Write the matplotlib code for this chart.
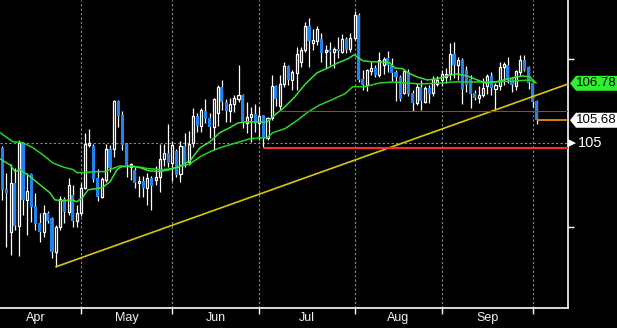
import numpy as np
import matplotlib
matplotlib.use("Agg")
import matplotlib.pyplot as plt
from matplotlib.patches import Polygon
from matplotlib.transforms import IdentityTransform

# daily OHLC, oldest first (Apr -> early Oct)
opens = [
    104.86, 103.64, 102.36, 103.82, 102.54, 105.01, 103.31, 104.09, 103.13, 102.63,
    102.36, 102.92, 102.78, 101.76, 102.51, 103.34, 102.95, 103.46, 102.69, 102.92,
    103.67, 104.95, 104.92, 103.97, 103.40, 103.91, 104.83, 104.83, 106.26, 105.84,
    104.98, 104.29, 104.21, 103.82, 103.88, 103.67, 103.97, 103.91, 104.00, 104.53,
    104.71, 104.41, 104.77, 104.09, 104.92, 104.44, 105.01, 105.81, 105.51, 105.96,
    105.75, 105.49, 105.90, 106.68, 106.23, 105.96, 106.17, 106.32, 106.44, 105.60,
    105.78, 105.87, 105.60, 105.84, 105.16, 105.75, 106.71, 106.11, 106.76, 107.30,
    106.88, 107.09, 107.42, 107.78, 108.49, 107.99, 108.04, 108.10, 107.72, 107.78,
    107.72, 107.81, 107.72, 108.10, 107.81, 108.13, 108.82, 106.91, 106.74, 107.15,
    107.24, 107.03, 107.33, 107.54, 107.33, 107.12, 106.97, 106.50, 107.12, 106.50,
    106.20, 106.68, 106.23, 106.65, 106.50, 106.76, 106.88, 106.97, 107.06, 107.66,
    107.33, 107.48, 107.18, 106.91, 106.50, 106.35, 106.44, 106.71, 107.00, 106.62,
    106.71, 107.27, 107.33, 106.91, 106.71, 107.12, 107.48, 107.27, 106.79, 106.26,
]
highs = [
    104.92, 104.12, 104.38, 104.27, 105.10, 105.04, 104.12, 104.12, 103.52, 102.92,
    103.16, 102.98, 102.81, 102.57, 103.43, 103.40, 103.97, 103.76, 103.16, 103.82,
    105.31, 105.43, 104.98, 104.24, 104.00, 104.98, 104.95, 106.28, 106.28, 105.96,
    105.01, 104.41, 104.29, 104.03, 104.03, 104.12, 104.03, 104.32, 104.98, 104.98,
    105.57, 105.07, 104.83, 105.07, 105.31, 105.37, 106.05, 105.90, 106.05, 106.32,
    105.90, 106.35, 106.74, 106.88, 106.32, 106.35, 106.44, 107.33, 106.47, 106.23,
    106.08, 106.17, 106.08, 105.84, 105.78, 107.03, 106.74, 107.03, 107.42, 107.33,
    107.18, 107.87, 107.87, 108.61, 108.73, 108.40, 108.49, 108.28, 107.93, 108.01,
    107.87, 108.16, 108.25, 108.16, 108.28, 108.94, 108.88, 107.18, 107.21, 107.42,
    107.33, 107.72, 107.57, 107.75, 107.54, 107.18, 107.03, 107.21, 107.21, 106.59,
    106.79, 106.88, 106.71, 106.74, 107.00, 107.00, 107.18, 107.24, 107.99, 108.01,
    107.57, 107.54, 107.30, 107.03, 106.59, 106.71, 106.94, 107.06, 107.12, 106.79,
    107.42, 107.42, 107.57, 106.97, 107.18, 107.63, 107.63, 107.30, 106.82, 106.29,
]
lows = [
    103.31, 101.91, 101.67, 102.42, 101.65, 102.86, 102.27, 102.66, 102.42, 102.06,
    102.21, 102.63, 101.59, 101.32, 102.42, 102.63, 102.86, 102.51, 102.51, 102.84,
    103.64, 104.89, 103.85, 103.28, 103.37, 103.85, 104.15, 104.59, 105.49, 104.80,
    104.00, 103.91, 103.67, 103.40, 103.40, 103.16, 103.01, 103.76, 103.55, 104.32,
    104.29, 103.88, 104.00, 103.85, 104.29, 104.35, 104.89, 105.34, 105.34, 105.60,
    105.16, 104.80, 105.51, 105.99, 105.63, 105.63, 105.93, 106.23, 105.46, 105.31,
    105.04, 105.34, 105.10, 104.86, 105.10, 105.69, 106.11, 105.99, 106.68, 106.74,
    106.59, 106.59, 107.27, 107.72, 107.27, 107.78, 107.93, 107.42, 107.24, 107.33,
    107.24, 107.54, 107.69, 107.69, 107.72, 108.07, 106.82, 106.59, 106.56, 107.03,
    106.97, 106.97, 107.06, 107.12, 106.85, 106.26, 106.26, 106.47, 106.41, 105.96,
    106.14, 105.99, 106.20, 106.20, 106.41, 106.71, 106.71, 106.79, 106.88, 106.94,
    106.88, 106.17, 106.53, 106.05, 106.29, 106.20, 106.38, 106.47, 106.44, 105.99,
    106.59, 106.74, 106.79, 106.53, 106.59, 107.03, 107.15, 106.62, 106.08, 105.57,
]
closes = [
    103.61, 103.52, 103.82, 102.54, 105.01, 103.31, 103.58, 103.10, 102.60, 102.36,
    102.92, 102.69, 101.76, 102.51, 103.34, 102.95, 103.76, 102.69, 102.92, 103.67,
    104.98, 105.01, 103.94, 103.40, 103.94, 104.83, 104.27, 106.26, 105.81, 104.95,
    104.35, 104.38, 103.82, 103.88, 103.67, 103.97, 103.73, 104.00, 104.53, 104.71,
    104.41, 104.95, 104.06, 104.92, 104.41, 104.98, 105.81, 105.51, 105.99, 105.72,
    105.49, 106.32, 106.68, 106.23, 105.96, 106.17, 106.35, 106.44, 105.60, 105.78,
    105.87, 105.60, 105.81, 105.16, 105.75, 106.71, 106.32, 106.76, 107.30, 106.88,
    107.12, 107.66, 107.78, 108.49, 108.04, 108.07, 108.40, 107.69, 107.78, 107.72,
    107.81, 107.75, 108.10, 107.78, 108.13, 108.82, 106.88, 106.74, 107.18, 107.24,
    107.03, 107.48, 107.51, 107.33, 107.09, 106.97, 106.32, 107.15, 106.47, 106.20,
    106.68, 106.26, 106.65, 106.47, 106.91, 106.88, 107.06, 107.06, 107.66, 107.33,
    107.48, 106.62, 106.74, 106.47, 106.35, 106.44, 106.65, 107.00, 106.65, 106.74,
    107.27, 107.36, 106.88, 106.74, 107.15, 107.48, 107.18, 106.79, 106.23, 105.68,
]

# moving averages (session index, price)
fast_idx = [-0.55, 1.9, 3.1, 4.3, 6.7, 9.1, 11.5, 12.7, 14.6, 16.8, 18.0, 19.5, 20.7,
            22.4, 24.1, 26.0, 27.7, 28.6, 31.3, 33.2, 35.2, 38.0, 40.5, 42.4, 45.3,
            47.7, 50.1, 52.5, 54.9, 56.9, 59.0, 61.5, 63.9, 65.8, 68.2, 70.6, 73.0,
            75.9, 78.6, 81.0, 83.4, 84.9, 87.0, 89.2, 91.1, 93.5, 94.7, 96.7, 97.9,
            100.1, 102.5, 104.9, 107.3, 109.7, 112.1, 114.0, 116.5, 118.9, 122.0,
            125.4, 127.3, 128.5]
fast_val = [104.53, 104.35, 104.15, 104.21, 104.00, 103.76, 103.52, 103.31, 103.28,
            103.31, 103.25, 103.40, 103.61, 103.64, 103.67, 103.85, 104.21, 104.29,
            104.32, 104.27, 104.18, 104.15, 104.21, 104.29, 104.47, 104.86, 105.04,
            105.31, 105.46, 105.60, 105.63, 105.63, 105.63, 105.84, 106.08, 106.38,
            106.74, 107.09, 107.24, 107.39, 107.51, 107.63, 107.45, 107.42, 107.42,
            107.39, 107.24, 107.21, 107.09, 106.97, 106.88, 106.91, 107.00, 107.06,
            107.00, 106.91, 106.79, 106.82, 106.91, 107.00, 106.97, 106.82]
slow_idx = [-0.55, 2.6, 5.0, 7.4, 9.8, 12.2, 14.6, 17.1, 18.0, 19.5, 22.4, 24.8,
            27.2, 28.4, 32.7, 35.2, 38.5, 40.9, 45.3, 47.7, 50.1, 52.5, 54.9, 57.4,
            59.8, 63.9, 65.3, 68.2, 71.3, 73.8, 76.2, 79.5, 82.7, 84.6, 87.5, 91.1,
            94.3, 97.6, 100.8, 106.3, 108.7, 114.0, 118.9, 123.7, 127.3, 128.8]
slow_val = [105.31, 105.04, 105.01, 104.86, 104.65, 104.41, 104.29, 104.21, 104.12,
            104.12, 104.15, 104.15, 104.27, 104.32, 104.29, 104.24, 104.21, 104.24,
            104.38, 104.59, 104.74, 104.86, 104.95, 105.04, 105.13, 105.16, 105.31,
            105.43, 105.69, 105.93, 106.11, 106.29, 106.47, 106.68, 106.68, 106.79,
            106.82, 106.79, 106.76, 106.79, 106.82, 106.82, 106.82, 106.85, 106.88,
            106.79]

# drawn studies
trend_idx = [13, 136.5]
trend_val = [101.32, 106.76]
support_hi, support_hi_from = 105.96, 67
support_lo, support_lo_from = 104.86, 63
last_price = 105.68
ma_tag = 106.78

month_names = ["Apr", "May", "Jun", "Jul", "Aug", "Sep"]
month_start = [-3, 19, 41, 62, 85, 106, 128]   # first session of each month

W, H = 617, 328
BLUE = "#1f84f2"
GREEN = "#25d425"

fig = plt.figure(figsize=(W / 100, H / 100), dpi=100, facecolor="black")
ax = fig.add_axes([0, 20 / H, 568 / W, 308 / H])
ax.set_facecolor("black")
ax.set_xlim(-0.55, 136.5)
ax.set_ylim(100.09, 109.26)

x = np.arange(len(opens))
o, h, l, c = map(np.array, (opens, highs, lows, closes))
up = c >= o

ax.vlines(x, l, h, color="white", lw=0.9, zorder=2)
ax.bar(x[~up], (o - c)[~up], bottom=c[~up], width=0.75, color=BLUE, lw=0, zorder=3)
ax.bar(x[up], np.maximum((c - o)[up], 0.02), bottom=o[up], width=0.5,
       facecolor="black", edgecolor="white", lw=0.9, zorder=3)

ax.plot(slow_idx, slow_val, color=GREEN, lw=1.1, zorder=4)
ax.plot(fast_idx, fast_val, color="#33e633", lw=1.1, zorder=4)

ax.plot(trend_idx, trend_val, color="#dcc800", lw=1.2, zorder=5)
ax.hlines(support_hi, support_hi_from, 136.5, color="#e8201c", lw=0.8, zorder=5)
ax.hlines(support_lo, support_lo_from, 136.5, color="#ff2a2a", lw=1.5, zorder=5)
ax.hlines(last_price, len(opens) - 1, 136.5, color="#ff9a00", lw=1.2, zorder=5)

# dotted grid
for m in month_start[1:]:
    ax.axvline(m, color="#8a8a8a", lw=0.8, ls=(0, (2, 2)), zorder=1)
ax.axhline(105, color="#8a8a8a", lw=0.8, ls=(0, (2, 2)), zorder=1)

for side in ("left", "top"):
    ax.spines[side].set_visible(False)
for side in ("bottom", "right"):
    ax.spines[side].set_color("white")
    ax.spines[side].set_linewidth(1.2)

ax.set_xticks(month_start[1:])
ax.set_xticklabels([])
mids = [(a + b) / 2 for a, b in zip(month_start[:-1], month_start[1:])]
ax.set_xticks(mids, minor=True)
ax.set_xticklabels(month_names, minor=True, color="#f2f2f2", fontsize=9,
                   fontfamily="Liberation Sans")
ax.tick_params(axis="x", which="major", length=4, width=1, color="white")
ax.tick_params(axis="x", which="minor", length=0, pad=3)

ax.yaxis.tick_right()
ax.set_yticks([102.5, 107.5])
ax.set_yticklabels([])
ax.tick_params(axis="y", length=4, width=1, color="white")

# right-hand price tags
fig.canvas.draw()
ident = IdentityTransform()


def tag(price, text, face, fg):
    y = ax.transData.transform((0, price))[1]
    pts = [(570, y), (576, y + 7.5), (W + 2, y + 7.5), (W + 2, y - 7.5), (576, y - 7.5)]
    fig.add_artist(Polygon(pts, closed=True, facecolor=face, edgecolor="none",
                           transform=ident))
    fig.text(575.5, y, text, color=fg, fontsize=9.5, fontfamily="Liberation Sans",
             va="center", ha="left", transform=ident)


tag(ma_tag, f"{ma_tag:.2f}", "#2ef02e", "black")
tag(last_price, f"{last_price:.2f}", "white", "black")

y105 = ax.transData.transform((0, 105))[1]
fig.add_artist(Polygon([(568, y105 + 4), (568, y105 - 4), (576, y105)], closed=True,
                       facecolor="white", edgecolor="none", transform=ident))
fig.text(578, y105, "105", color="white", fontsize=10.5, fontfamily="Liberation Sans",
         va="center", ha="left", transform=ident)

fig.savefig("out.png", dpi=100, facecolor="black")
